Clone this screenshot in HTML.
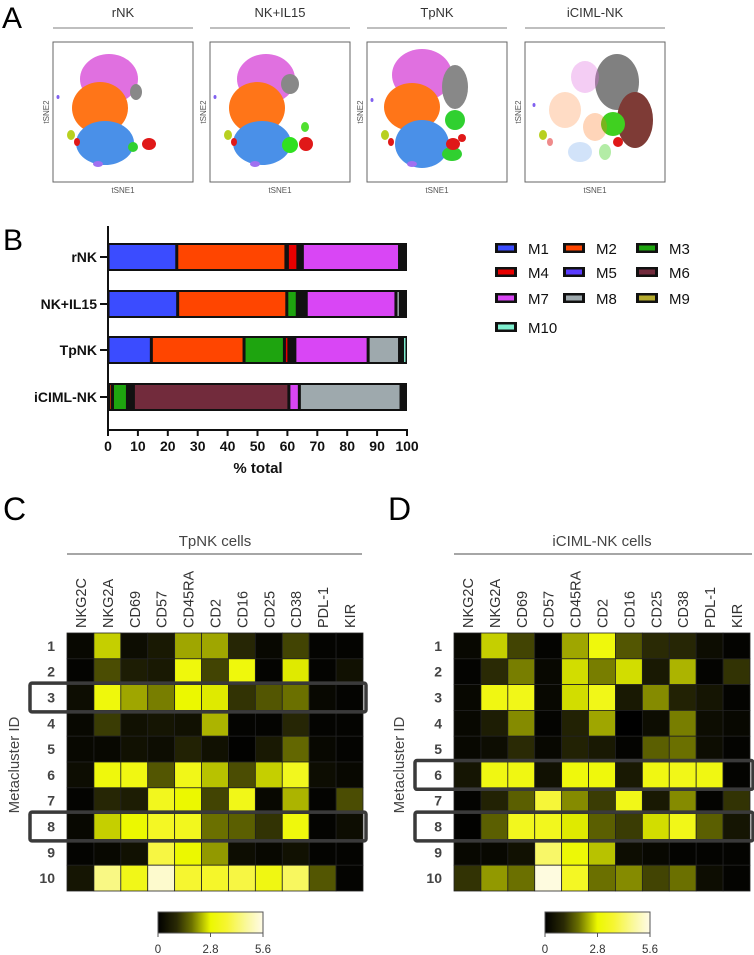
<!DOCTYPE html>
<html><head><meta charset="utf-8"><style>
html,body{margin:0;padding:0;background:#fff;}
svg{display:block;font-family:"Liberation Sans",Arial,sans-serif;}
</style></head><body>
<svg id="fig" width="754" height="955" viewBox="0 0 754 955" xmlns="http://www.w3.org/2000/svg">
<g id="panelA">
<text x="2" y="28" font-size="30">A</text>
</g>
<g id="panelB">
<text x="3" y="250" font-size="30">B</text>
</g>
<g id="panelC">
<text x="3" y="520" font-size="32">C</text>
<text x="215" y="546" font-size="15" text-anchor="middle" fill="#444">TpNK cells</text>
<line x1="67" y1="554" x2="362" y2="554" stroke="#888" stroke-width="1.5"/>
<text transform="translate(19,765) rotate(-90)" font-size="15" text-anchor="middle" fill="#444">Metacluster ID</text>
</g>
<g id="panelD">
<text x="388" y="520" font-size="32">D</text>
<text x="602" y="546" font-size="15" text-anchor="middle" fill="#444">iCIML-NK cells</text>
<line x1="454" y1="554" x2="752" y2="554" stroke="#888" stroke-width="1.5"/>
<text transform="translate(404,765) rotate(-90)" font-size="15" text-anchor="middle" fill="#444">Metacluster ID</text>
</g>
<defs>
<linearGradient id="cbar" x1="0" x2="1" y1="0" y2="0">
<stop offset="0" stop-color="#000"/><stop offset="0.18" stop-color="#2a2a05"/><stop offset="0.32" stop-color="#6b7000"/><stop offset="0.5" stop-color="#ecf800"/><stop offset="0.65" stop-color="#f6f630"/><stop offset="0.85" stop-color="#faf8a0"/><stop offset="1" stop-color="#fffbe8"/>
</linearGradient>
</defs>
</svg>
<script>
const NS="http://www.w3.org/2000/svg";
function mk(tag,attrs,parent,txt){const e=document.createElementNS(NS,tag);for(const k in attrs)e.setAttribute(k,attrs[k]);if(txt!==undefined)e.textContent=txt;parent.appendChild(e);return e;}

/* ---------- Panel B data ---------- */
const samples=["rNK","NK+IL15","TpNK","iCIML-NK"];
const clusters=["M1","M2","M3","M4","M5","M6","M7","M8","M9","M10"];
const clusterColors=["#3b4cff","#ff4500","#1ea40f","#e80000","#5b3cff","#722b3c","#d946f5","#9ea9ad","#b5ab2e","#7ff0cf"];
const pctRNK=[23,36.5,0.5,3.5,1,0.5,32.5,1,1,0.5];
const pctIL15=[23.3,36.5,3.5,1,1,1,30,1.5,1,0.9];
const pctTpNK=[14.5,31,13.5,1.5,1,1,24.5,10.5,1,1.5];
const pctICIML=[0.3,1.2,5,1,1,52,3.5,34,1,1];
const xTicks=[0,10,20,30,40,50,60,70,80,90,100];

/* ---------- Heatmap data ---------- */
const markers=["NKG2C","NKG2A","CD69","CD57","CD45RA","CD2","CD16","CD25","CD38","PDL-1","KIR"];
const metaclusters=["1","2","3","4","5","6","7","8","9","10"];
const tpnkValues=[
[0.2,2.5,0.3,0.6,2.2,2.2,0.9,0.2,1.3,0.1,0.1],
[0.1,1.4,0.7,0.6,3.0,1.3,3.0,0.1,2.7,0.1,0.4],
[0.3,3.0,2.2,1.9,2.8,2.7,1.1,1.5,1.8,0.2,0.1],
[0.2,1.2,0.4,0.5,0.4,2.3,0.1,0.1,0.9,0.1,0.1],
[0.2,0.2,0.4,0.3,0.8,0.4,0.05,0.6,1.7,0.2,0.1],
[0.3,3.0,3.1,1.5,3.2,2.4,1.4,2.5,3.3,0.3,0.2],
[0.1,0.9,0.7,3.3,2.8,1.3,3.2,0.2,2.3,0.1,1.4],
[0.2,2.5,2.8,3.4,3.3,1.8,1.6,1.1,3.0,0.1,0.3],
[0.1,0.2,0.4,3.8,2.8,2.1,0.3,0.2,0.4,0.1,0.1],
[0.5,4.5,3.2,5.3,3.6,3.5,3.8,3.1,4.1,1.5,0.1]];
const icimlValues=[
[0.2,2.5,1.3,0.1,2.2,3.0,1.5,1.0,0.9,0.3,0.1],
[0.1,1.0,1.9,0.2,2.6,1.9,2.6,0.6,2.3,0.1,1.1],
[0.2,3.1,3.2,0.2,2.6,3.2,0.6,2.0,0.8,0.5,0.1],
[0.2,0.7,2.0,0.1,0.8,2.2,0.0,0.3,1.9,0.3,0.2],
[0.2,0.3,1.0,0.2,0.8,0.6,0.1,1.6,1.8,0.3,0.1],
[0.5,3.1,3.1,0.4,3.0,3.0,0.6,3.1,3.2,3.1,0.1],
[0.1,0.8,1.6,3.7,2.0,1.2,3.2,0.6,2.0,0.1,1.1],
[0.05,1.6,3.3,3.3,2.7,1.6,1.2,2.6,3.2,1.6,0.5],
[0.2,0.2,0.4,4.2,2.9,2.4,0.3,0.2,0.1,0.1,0.1],
[1.1,2.1,1.8,5.5,3.4,1.8,2.0,1.3,1.8,0.3,0.1]];
const colorbarTicks=[0,2.8,5.6];

/* ---------- Panel A: tSNE ---------- */
const A=document.getElementById('panelA');
const tsneTitles=["rNK","NK+IL15","TpNK","iCIML-NK"];
const tsneX=[53,210,367,525];
const blobSets=[
 [[56,37,29,25,"#e070e0"],[47,66,28,26,"#ff7518"],[52,101,29,22,"#4a90e8"],[83,50,6,8,"#888"],[96,102,7,6,"#e01818"],[18,93,4,5,"#b8d020"],[24,100,3,4,"#e01818"],[80,105,5,5,"#30d030"],[45,122,5,3,"#a070f0"],[5,55,1.5,2,"#8060f0"]],
 [[56,37,29,25,"#e070e0"],[47,66,28,26,"#ff7518"],[52,101,29,22,"#4a90e8"],[80,42,9,10,"#888"],[96,102,7,7,"#e01818"],[18,93,4,5,"#b8d020"],[24,100,3,4,"#e01818"],[80,103,8,8,"#30e020"],[95,85,4,5,"#50e030"],[45,122,5,3,"#a070f0"],[5,55,1.5,2,"#8060f0"]],
 [[55,33,30,26,"#e070e0"],[88,45,13,22,"#888"],[45,65,28,24,"#ff7518"],[55,102,27,24,"#4a90e8"],[88,78,10,10,"#30d030"],[85,112,10,7,"#30d030"],[86,102,7,6,"#e01818"],[95,96,4,4,"#e01818"],[18,93,4,5,"#b8d020"],[24,100,3,4,"#e01818"],[45,122,5,3,"#a070f0"],[5,58,1.5,2,"#8060f0"]],
 [[92,40,22,28,"#808080"],[110,78,18,28,"#7e3b36"],[88,82,12,12,"#40d020"],[93,100,5,5,"#e01818"],[60,35,14,16,"rgba(224,112,224,0.35)"],[40,68,16,18,"rgba(255,117,24,0.25)"],[70,85,12,14,"rgba(255,117,24,0.3)"],[80,110,6,8,"rgba(64,208,32,0.4)"],[18,93,4,5,"#b8d020"],[25,100,3,4,"rgba(224,24,24,0.5)"],[55,110,12,10,"rgba(74,144,232,0.25)"],[9,63,1.5,2,"#8060f0"]]
];
tsneTitles.forEach((t,i)=>{
 const x0=tsneX[i], g=mk('g',{},A);
 
 
 const tt=mk('text',{x:x0+70,y:17,'font-size':13,'text-anchor':'middle',fill:'#333'},g,t);
 
 
 const ul=mk('line',{x1:x0,y1:28,x2:x0+140,y2:28,stroke:'#999','stroke-width':1.2},g);
 
 
 const bx=mk('rect',{x:x0,y:42,width:140,height:140,fill:'#fff',stroke:'#666','stroke-width':1},g);
 
 
 blobSets[i].forEach(b=>{
  const e=mk('ellipse',{cx:x0+b[0],cy:42+b[1],rx:b[2],ry:b[3],fill:b[4]},g);
  
  
 });
 const xl=mk('text',{x:x0+70,y:193,'font-size':8,'text-anchor':'middle',fill:'#555'},g,'tSNE1');
 
 
 const yl=mk('text',{transform:`translate(${x0-4},112) rotate(-90)`,'font-size':8,'text-anchor':'middle',fill:'#555'},g,'tSNE2');
 
 
});

/* ---------- Panel B: stacked bars ---------- */
const B=document.getElementById('panelB');
const bx0=108,bx1=407;
const xScale=v=>bx0+(bx1-bx0)*v/100;
const barTops=[243,290,336,383], barH=28;
const allPct=[pctRNK,pctIL15,pctTpNK,pctICIML];
samples.forEach((s,i)=>{
 const y=barTops[i];
 const bg=mk('rect',{x:xScale(0),y:y,width:xScale(100)-xScale(0),height:barH,fill:'#111'},B);
 
 
 let acc=0;
 allPct[i].forEach((p,j)=>{
  const xa=xScale(acc),xb=xScale(acc+p);acc+=p;
  const w=Math.max(0,xb-xa-3);
  const r=mk('rect',{x:xa+1.5,y:y+2,width:w,height:barH-4,fill:clusterColors[j]},B);
  
  
 });
 const tk=mk('line',{x1:100,y1:y+barH/2,x2:108,y2:y+barH/2,stroke:'#111','stroke-width':2},B);
 
 
 const lb=mk('text',{x:97,y:y+barH/2+5,'font-size':14,'font-weight':'bold','text-anchor':'end',fill:'#111'},B,s);
 
 
});
const yax=mk('line',{x1:108,y1:226,x2:108,y2:431,stroke:'#111','stroke-width':2},B);


const xax=mk('line',{x1:107,y1:430,x2:408,y2:430,stroke:'#111','stroke-width':2},B);


xTicks.forEach(v=>{
 const t=mk('line',{x1:xScale(v),y1:430,x2:xScale(v),y2:436,stroke:'#111','stroke-width':2},B);
 
 
 const l=mk('text',{x:xScale(v),y:451,'font-size':14,'font-weight':'bold','text-anchor':'middle',fill:'#111'},B,String(v));
 
 
});
const xt=mk('text',{x:258,y:473,'font-size':15,'font-weight':'bold','text-anchor':'middle',fill:'#111'},B,'% total');


const legX=[495,563,636],legY=[248,272,298,327];
clusters.forEach((c,j)=>{
 const col=j%3,row=Math.floor(j/3);
 const g=mk('g',{},B);
 
 
 mk('rect',{x:legX[col],y:legY[row]-5,width:22,height:10,fill:'#111'},g);
 mk('rect',{x:legX[col]+3,y:legY[row]-2.5,width:16,height:5,fill:clusterColors[j]},g);
 mk('text',{x:legX[col]+33,y:legY[row]+6,'font-size':15,fill:'#111'},g,c);
});

/* ---------- Heatmaps ---------- */
const stops=[[0,[0,0,0]],[1,[42,42,5]],[1.8,[107,112,0]],[2.8,[236,248,0]],[3.6,[246,246,48]],[4.8,[250,248,160]],[5.6,[255,251,232]]];
function cmap(v){
 v=Math.max(0,Math.min(5.6,v));
 for(let i=0;i<stops.length-1;i++){
  const [a,ca]=stops[i],[b,cb]=stops[i+1];
  if(v<=b){const t=(v-a)/(b-a);return `rgb(${ca.map((c,k)=>Math.round(c+(cb[k]-c)*t)).join(',')})`;}
 }
 return 'rgb(255,251,232)';
}
function heatmap(parent,x0,x1,y0,y1,vals,boxRows,boxX0,boxX1,cbX,tag){
 const cw=(x1-x0)/markers.length, rh=(y1-y0)/metaclusters.length;
 markers.forEach((m,c)=>{
  const t=mk('text',{transform:`translate(${x0+cw*(c+0.5)+5.5},628) rotate(-90)`,'font-size':14.5,fill:'#333'},parent,m);
  
  
 });
 metaclusters.forEach((r,ri)=>{
  const t=mk('text',{x:x0-12,y:y0+rh*(ri+0.5)+5,'font-size':14,'font-weight':'bold','text-anchor':'end',fill:'#444'},parent,r);
  
  
  markers.forEach((m,c)=>{
   const cell=mk('rect',{x:x0+cw*c,y:y0+rh*ri,width:cw,height:rh,fill:cmap(vals[ri][c]),stroke:'#222','stroke-width':0.8},parent);
   
   
  });
 });
 boxRows.forEach(ri=>{
  const b=mk('rect',{x:boxX0,y:y0+rh*ri-1.5,width:boxX1-boxX0,height:rh+3,rx:2,fill:'none',stroke:'#3a3a3a','stroke-width':3.5},parent);
  
  
 });
 const cb=mk('rect',{x:cbX,y:912,width:105,height:21,fill:'url(#cbar)',stroke:'#555','stroke-width':1},parent);
 
 
 colorbarTicks.forEach(v=>{
  const tx=cbX+105*v/5.6;
  const l=mk('line',{x1:tx,y1:933,x2:tx,y2:937,stroke:'#555'},parent);
  
  
  const t=mk('text',{x:tx,y:953,'font-size':11.5,'text-anchor':'middle',fill:'#333'},parent,String(v));
  
  
 });
}
heatmap(document.getElementById('panelC'),67,363,633,891,tpnkValues,[2,7],30,366,158,'tpnk');
heatmap(document.getElementById('panelD'),454,750,633,891,icimlValues,[5,7],415,753,545,'iciml');
</script>
</body></html>
